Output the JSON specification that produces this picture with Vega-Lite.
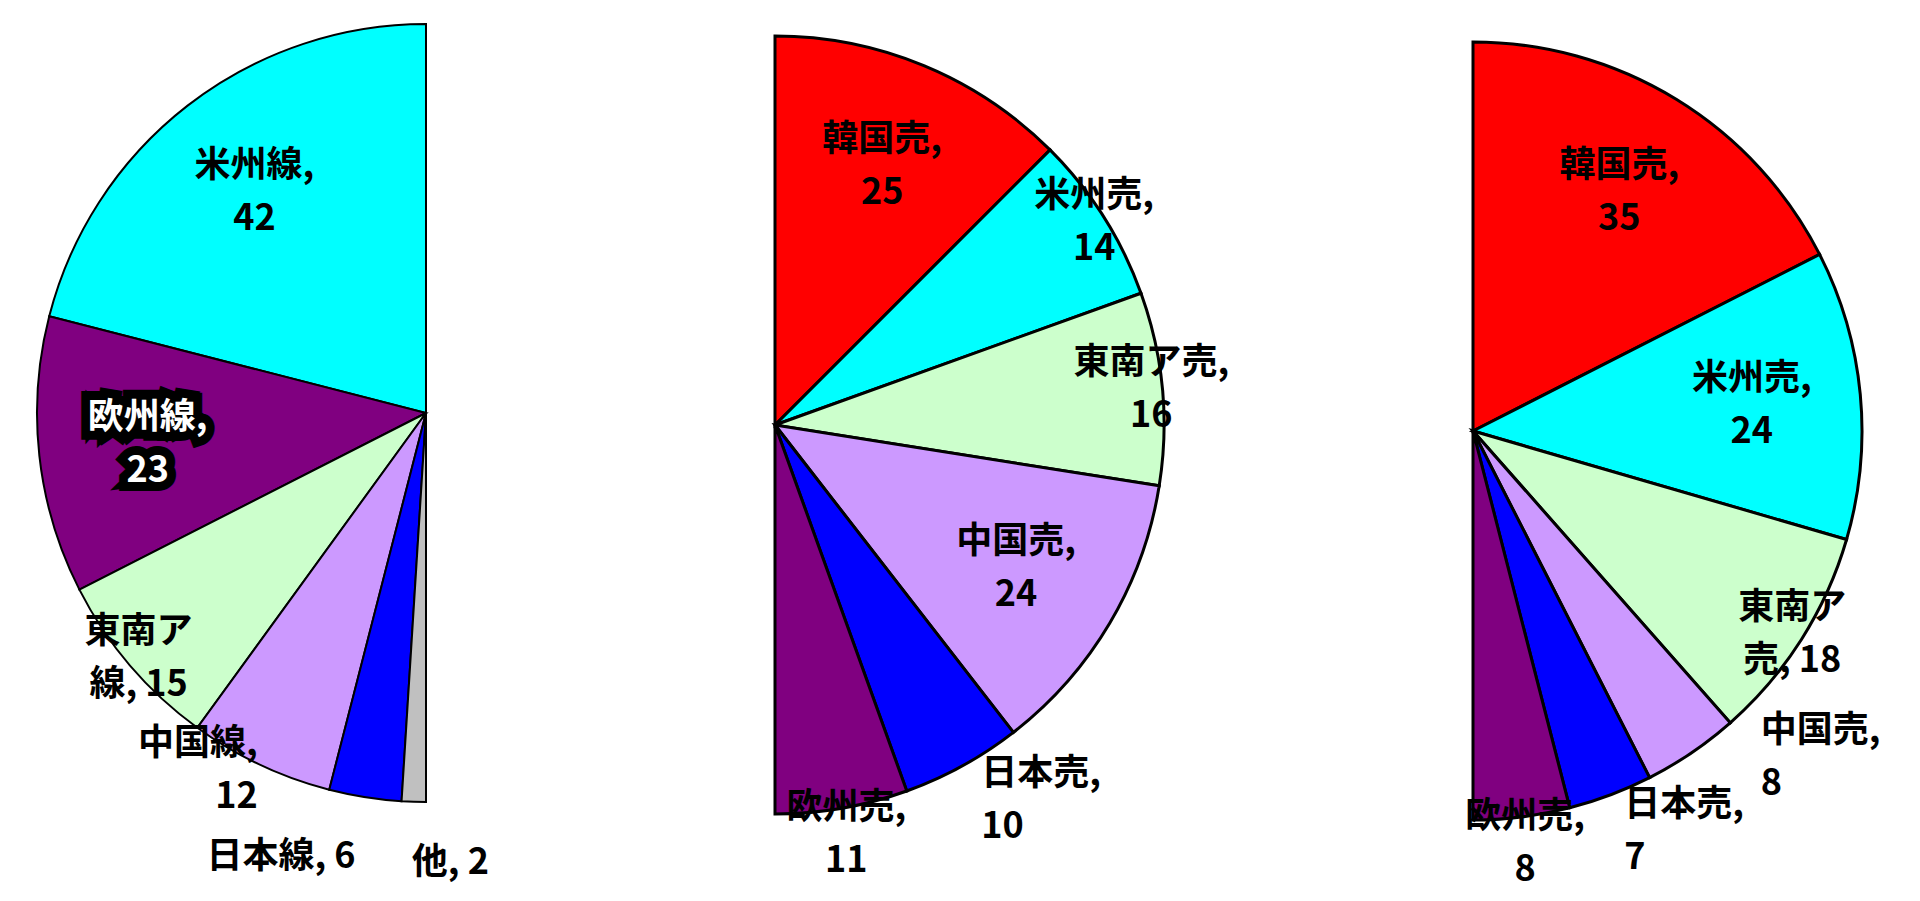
{
  "$schema": "https://vega.github.io/schema/vega-lite/v6.json",
  "description": "Three half pies: 線 by region, and two 売 breakdowns",
  "width": 1920,
  "height": 901,
  "padding": 0,
  "autosize": {"type": "none"},
  "config": {
    "view": {"stroke": null},
    "text": {"font": "Noto Sans CJK JP", "fontSize": 36, "fontWeight": "bold", "lineHeight": 53, "color": "black"}
  },
  "data": {
    "values": [
      {"chart": "線", "name": "米州線", "value": 42},
      {"chart": "線", "name": "欧州線", "value": 23},
      {"chart": "線", "name": "東南ア線", "value": 15},
      {"chart": "線", "name": "中国線", "value": 12},
      {"chart": "線", "name": "日本線", "value": 6},
      {"chart": "線", "name": "他", "value": 2},
      {"chart": "売①", "name": "韓国売", "value": 25},
      {"chart": "売①", "name": "米州売", "value": 14},
      {"chart": "売①", "name": "東南ア売", "value": 16},
      {"chart": "売①", "name": "中国売", "value": 24},
      {"chart": "売①", "name": "日本売", "value": 10},
      {"chart": "売①", "name": "欧州売", "value": 11},
      {"chart": "売②", "name": "韓国売", "value": 35},
      {"chart": "売②", "name": "米州売", "value": 24},
      {"chart": "売②", "name": "東南ア売", "value": 18},
      {"chart": "売②", "name": "中国売", "value": 8},
      {"chart": "売②", "name": "日本売", "value": 7},
      {"chart": "売②", "name": "欧州売", "value": 8}
    ]
  },
  "transform": [
    {"window": [{"op": "row_number", "as": "i"}], "groupby": ["chart"]},
    {"stack": "value", "groupby": ["chart"], "sort": [{"field": "i", "order": "ascending"}], "as": ["v0", "v1"]},
    {"calculate": "datum.chart == '線' ? -1 : 1", "as": "dir"},
    {"calculate": "datum.dir * datum.v0", "as": "t0"},
    {"calculate": "datum.dir * datum.v1", "as": "t1"},
    {"calculate": "datum.dir * (datum.v0 + datum.v1) / 2", "as": "tm"},
    {"calculate": "100 - abs(datum.tm)", "as": "fb"},
    {
      "calculate": "datum.name == '他' || datum.name == '日本線' ? datum.name + ', ' + datum.value : (datum.name == '東南ア線' || (datum.name == '東南ア売' && datum.chart == '売②')) ? ['東南ア', replace(datum.name, '東南ア', '') + ', ' + datum.value] : [datum.name + ',', '' + datum.value]",
      "as": "label"
    }
  ],
  "encoding": {
    "x": {
      "field": "chart",
      "type": "nominal",
      "axis": null,
      "scale": {"type": "point", "domain": ["線", "売①", "-", "売②"], "range": [426, 1473], "padding": 0}
    },
    "y": {
      "field": "chart",
      "type": "nominal",
      "axis": null,
      "scale": {"type": "point", "domain": ["線", "-", "売①", "売②"], "range": [413, 431], "padding": 0}
    },
    "theta": {
      "field": "tm",
      "type": "quantitative",
      "stack": null,
      "scale": {"domain": [-100, 100], "range": [-3.141592654, 3.141592654]}
    },
    "text": {"field": "label"}
  },
  "layer": [
    {
      "mark": {"type": "arc", "radius": 389, "stroke": "black"},
      "encoding": {
        "theta": {"field": "t0", "type": "quantitative", "stack": null},
        "theta2": {"field": "t1"},
        "text": null,
        "color": {
          "field": "name",
          "type": "nominal",
          "legend": null,
          "scale": {
            "domain": ["米州線", "欧州線", "東南ア線", "中国線", "日本線", "他", "韓国売", "米州売", "東南ア売", "中国売", "日本売", "欧州売"],
            "range": ["#00ffff", "#800080", "#ccffcc", "#cc99ff", "#0000ff", "#c0c0c0", "#ff0000", "#00ffff", "#ccffcc", "#cc99ff", "#0000ff", "#800080"]
          }
        },
        "strokeWidth": {"condition": {"test": "datum.chart == '線'", "value": 2}, "value": 3}
      }
    },
    {
      "transform": [{"filter": "datum.name == '欧州線'"}],
      "mark": {"type": "text", "radius": 280, "dy": -26, "fill": "black", "stroke": "black", "strokeWidth": 18, "strokeJoin": "miter"}
    },
    {
      "transform": [{"filter": "datum.value >= 20"}],
      "mark": {"type": "text", "radius": 280, "dy": -26},
      "encoding": {
        "color": {"condition": {"test": "datum.name == '欧州線'", "value": "white"}, "value": "black"}
      }
    },
    {
      "transform": [{"filter": "datum.value >= 13 && datum.value < 20"}],
      "mark": {"type": "text", "radius": 378, "dy": -26}
    },
    {
      "transform": [{"filter": "datum.value < 13 && datum.chart == '線' && datum.fb > 3 && isArray(datum.label)"}],
      "mark": {"type": "text", "radius": 395, "dy": -26, "align": "right"}
    },
    {
      "transform": [{"filter": "datum.value < 13 && datum.chart == '線' && datum.fb > 3 && !isArray(datum.label)"}],
      "mark": {"type": "text", "radius": 450, "align": "right"}
    },
    {
      "transform": [{"filter": "datum.value < 13 && datum.chart == '線' && datum.fb <= 3"}],
      "mark": {"type": "text", "radius": 450, "align": "left"}
    },
    {
      "transform": [{"filter": "datum.value < 13 && datum.chart != '線' && datum.fb > 18"}],
      "mark": {"type": "text", "radius": 435, "dy": -26, "align": "left"},
      "encoding": {"theta": {"field": "t0", "type": "quantitative", "stack": null}}
    },
    {
      "transform": [{"filter": "datum.value < 13 && datum.chart != '線' && datum.fb > 9 && datum.fb <= 18"}],
      "mark": {"type": "text", "radius": 428, "dy": -26, "align": "left"}
    },
    {
      "transform": [{"filter": "datum.value < 13 && datum.chart != '線' && datum.fb <= 9"}],
      "mark": {"type": "text", "radius": 415, "dy": -26}
    }
  ]
}
